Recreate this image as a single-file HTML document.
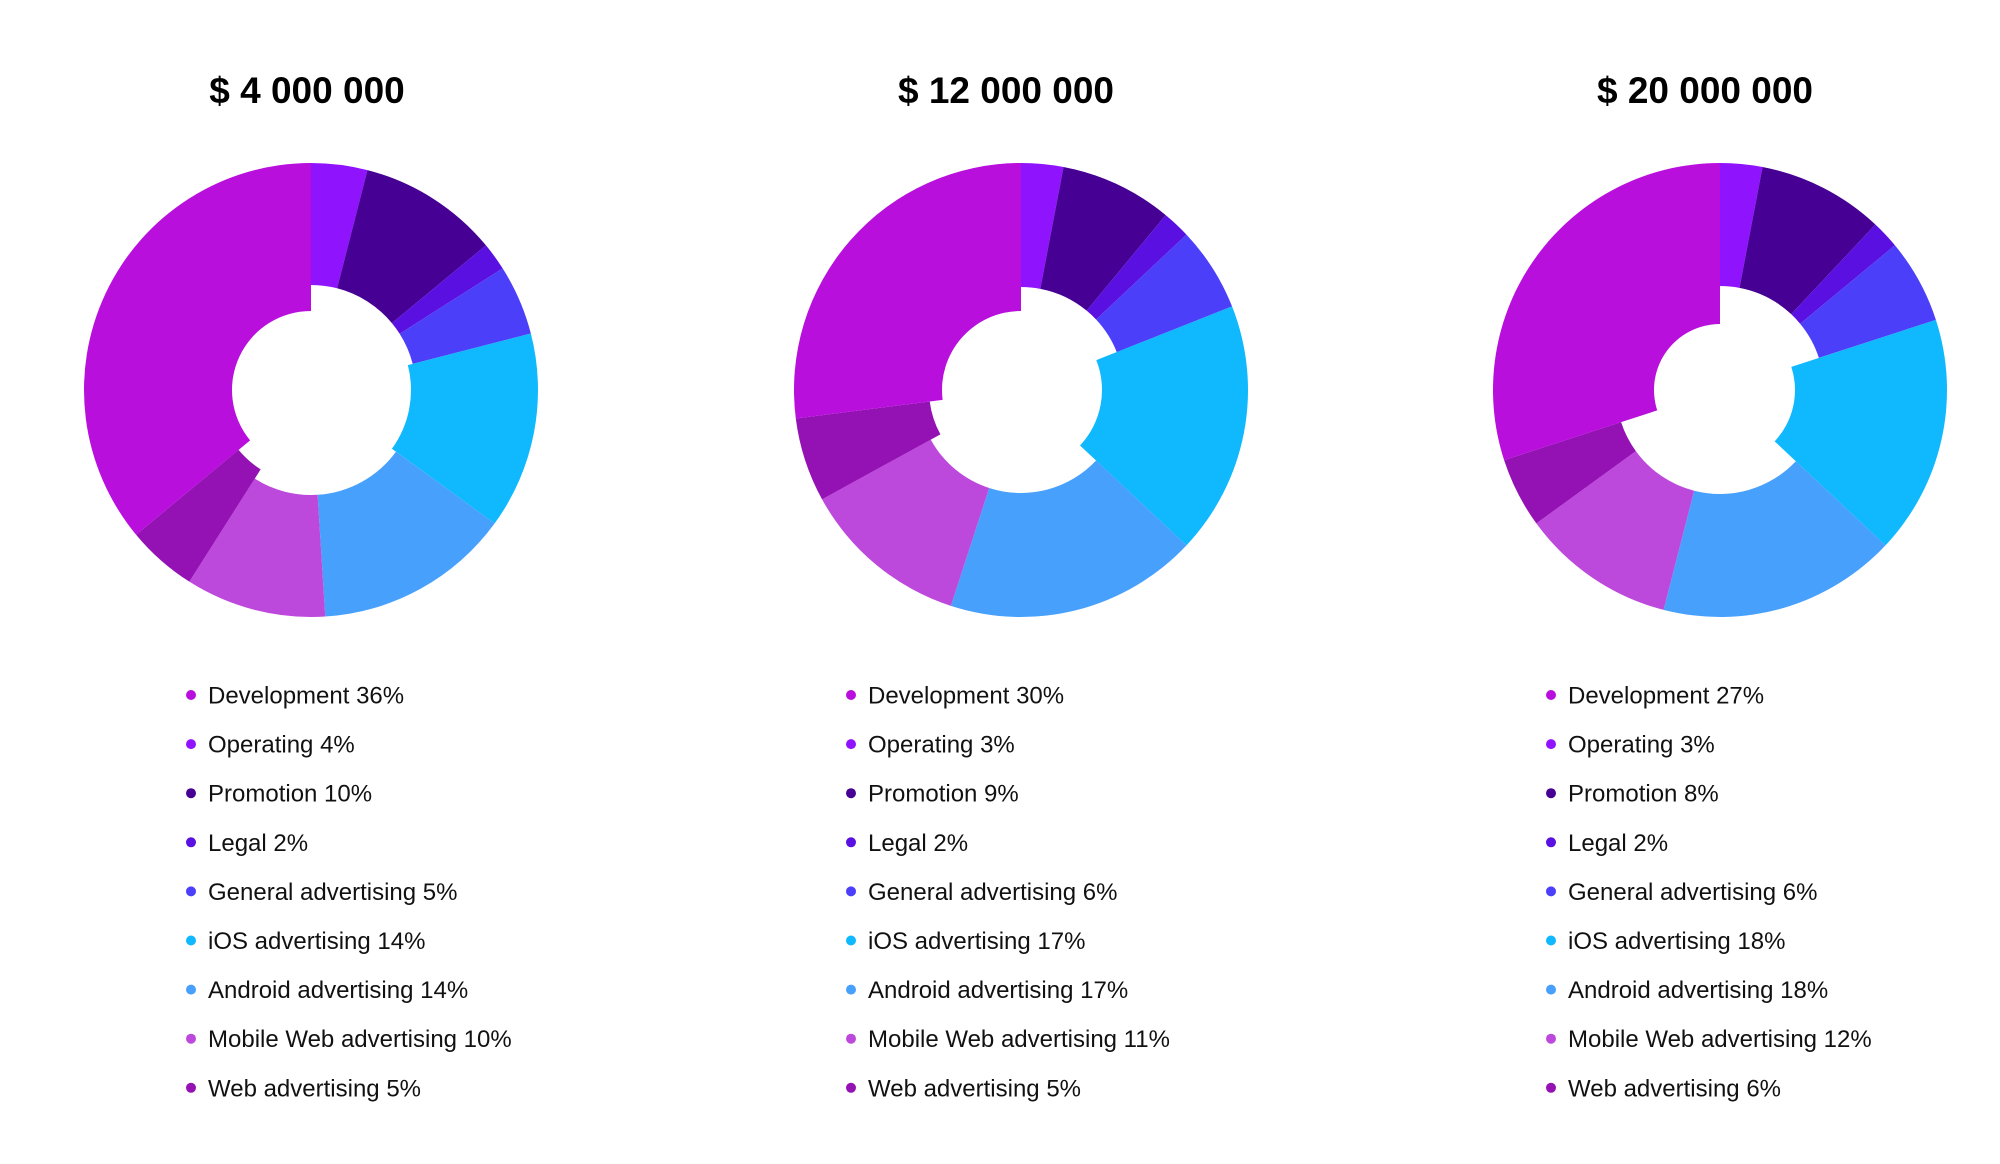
<!DOCTYPE html>
<html><head><meta charset="utf-8">
<style>
html,body{margin:0;padding:0;background:#fff;}
svg{display:block;font-family:"Liberation Sans",sans-serif;}
</style></head>
<body>
<svg id="chart" width="2000" height="1164" viewBox="0 0 2000 1164"></svg>
<script>
const categories = ["Development","Operating","Promotion","Legal","General advertising","iOS advertising","Android advertising","Mobile Web advertising","Web advertising"];
const colors = ["#b90fdc","#9013fe","#460094","#5a10e0","#4c3ffa","#10b8fe","#48a0fd","#bd48dc","#9411b4"];
const budgetTitles = ["$ 4 000 000","$ 12 000 000","$ 20 000 000"];
// legend (printed) values
const values4M = [36,4,10,2,5,14,14,10,5];
const values12M = [30,3,9,2,6,17,17,11,5];
const values20M = [27,3,8,2,6,18,18,12,6];
const legendList = [values4M, values12M, values20M];
// slice sizes as drawn in the picture
const slices4M = [36,4,10,2,5,14,14,10,5];
const slices12M = [27,3,8,2,6,18,18,12,6];
const slices20M = [30,3,9,2,6,17,17,11,5];
const sliceList = [slices4M, slices12M, slices20M];

const layout = [
  {cx:311, cy:390, lx:191, tx:307, inner:[79,105,105,105,105,100,105,105,94]},
  {cx:1021, cy:390, lx:851, tx:1006, inner:[79,103,103,103,103,81,103,103,92]},
  {cx:1720, cy:390, lx:1551, tx:1705, inner:[66,104,104,104,104,75,104,104,104]}
];
const R = 227;
const NS = "http://www.w3.org/2000/svg";
const svg = document.getElementById('chart');

function mk(tag, attrs){ const e=document.createElementNS(NS,tag); for(const k in attrs) e.setAttribute(k,attrs[k]); return e; }
function pt(cx,cy,r,a){ return [cx + r*Math.sin(a), cy - r*Math.cos(a)]; }

sliceList.forEach((vals, ci) => {
  const L = layout[ci];
  const labels = legendList[ci];
  const g = mk('g', {});
  
  
  svg.appendChild(g);

  const t = mk('text', {x:L.tx, y:103, 'text-anchor':'middle', 'font-size':37, 'font-weight':'bold', fill:'#000'});
  t.textContent = budgetTitles[ci];
  
  
  g.appendChild(t);

  const total = vals.reduce((a,b)=>a+b,0);
  const order = [1,2,3,4,5,6,7,8,0];
  let acc = 0;
  order.forEach(i => {
    const a0 = acc/total*2*Math.PI;
    acc += vals[i];
    const a1 = acc/total*2*Math.PI;
    const ri = L.inner[i];
    const large = (a1-a0) > Math.PI ? 1 : 0;
    const p0 = pt(L.cx,L.cy,R,a0), p1 = pt(L.cx,L.cy,R,a1);
    const q1 = pt(L.cx,L.cy,ri,a1), q0 = pt(L.cx,L.cy,ri,a0);
    const d = `M${p0[0]},${p0[1]} A${R},${R} 0 ${large} 1 ${p1[0]},${p1[1]} L${q1[0]},${q1[1]} A${ri},${ri} 0 ${large} 0 ${q0[0]},${q0[1]} Z`;
    const p = mk('path', {d:d, fill:colors[i]});
    
    
    g.appendChild(p);
  });

  categories.forEach((c, i) => {
    const y = 695 + i*49.1;
    const dot = mk('circle', {cx:L.lx, cy:y, r:5, fill:colors[i]});
    
    
    g.appendChild(dot);
    const tx = mk('text', {x:L.lx+17, y:y+8.5, 'font-size':24, fill:'#111'});
    tx.textContent = c + ' ' + labels[i] + '%';
    
    
    g.appendChild(tx);
  });
});
</script>
</body></html>
